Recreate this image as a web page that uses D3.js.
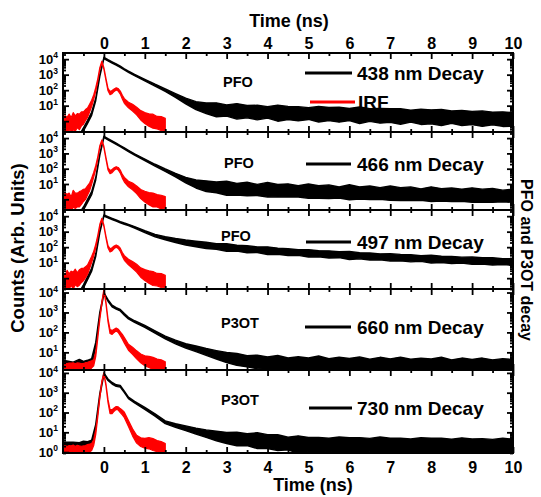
<!DOCTYPE html>
<html>
<head>
<meta charset="utf-8">
<script src="https://cdn.jsdelivr.net/npm/d3@7"></script>
<style>
html,body{margin:0;padding:0;background:#fff;}
svg text{font-family:"Liberation Sans",Arial,Helvetica,sans-serif;font-weight:bold;fill:#000;}
</style>
</head>
<body>
<svg id="chart" width="541" height="497"></svg>
<script>
// ---------- data ----------
const xDomain = [-1, 10];
const xMajorTicks = [0,1,2,3,4,5,6,7,8,9,10];
const xMinorTicks = [-0.5,0.5,1.5,2.5,3.5,4.5,5.5,6.5,7.5,8.5,9.5];
const panelNames = ["PFO","PFO","PFO","P3OT","P3OT"];
const decayLabels = ["438 nm Decay","466 nm Decay","497 nm Decay","660 nm Decay","730 nm Decay"];
const irfLabel = "IRF";
const yDomains = [[0.2,2.5e4],[0.2,2.5e4],[0.2,2.5e4],[1.3,1.5e4],[0.9,1.4e4]];
const yLabelExponents = [[1,2,3,4],[1,2,3,4],[1,2,3,4],[1,2,3,4],[0,1,2,3,4]];

const decayTimes = [-1,-0.75,-0.6,-0.5,-0.4,-0.3,-0.2,-0.1,0,0.1,0.2,0.3,0.4,0.5,0.6,0.75,
  1,1.25,1.5,1.75,2,2.25,2.5,2.75,3,3.25,3.5,3.75,4,4.25,4.5,4.75,5,5.25,5.5,5.75,6,6.25,6.5,6.75,
  7,7.25,7.5,7.75,8,8.25,8.5,8.75,9,9.25,9.5,9.75,10];

// decay counts (band centre) and band half-width in decades
const decay438 = [0.05,0.05,0.1,0.3,0.9,3,25,900, 12000,8500,6200,4500,3200,2200,1550,950,
  450,210,100,45,20,10,6.8,5.4, 4.9,4.3,4.1,3.6,3.7,3.3,3.4,3.0, 3.1,2.8,2.9,2.6,2.7,2.4,2.5,2.2,
  2.3,2.0,2.1,1.9,1.9,1.7,1.8,1.6, 1.6,1.45,1.5,1.35,1.3];
const spread438 = [0.1,0.1,0.1,0.1,0.1,0.1,0.08,0.06, 0.04,0.04,0.04,0.04,0.04,0.04,0.04,0.04,
  0.05,0.06,0.08,0.12,0.18,0.26, 0.34,0.45,0.36,0.5,0.4,0.47,0.37,0.52,0.42,0.46,0.38,0.5,0.43,0.48,
  0.39,0.53,0.41,0.47,0.44,0.5,0.38,0.49,0.45,0.52,0.4,0.48,0.43,0.5,0.41,0.47,0.44];

const decay466 = [0.05,0.05,0.1,0.25,0.8,2.5,22,850, 12000,8300,6000,4300,3000,2100,1450,850,
  380,170,80,38,18,10,7.2,6.0, 5.3,4.6,4.7,4.1,4.2,3.7,3.8,3.3, 3.4,3.0,3.1,2.8,2.9,2.6,2.7,2.4,
  2.5,2.2,2.3,2.05,2.15,1.95,2.0,1.85, 1.9,1.75,1.8,1.65,1.7];
const spread466 = [0.1,0.1,0.1,0.1,0.1,0.1,0.08,0.06, 0.04,0.04,0.04,0.04,0.04,0.04,0.04,0.04,
  0.05,0.06,0.08,0.12,0.18,0.26, 0.35,0.35,0.46,0.38,0.44,0.36,0.48,0.4,0.43,0.37,0.47,0.41,0.45,0.36,
  0.49,0.4,0.44,0.38,0.47,0.42,0.45,0.37,0.48,0.41,0.44,0.39,0.47,0.42,0.45,0.38,0.43];

const decay497 = [0.05,0.05,0.1,0.3,1.0,3.5,30,1000, 11000,8500,6600,5200,4100,3300,2700,1900,
  1000,560,380,270,200,160,130,110, 95,86,74,68,59,55,48,45, 40,38,34,32.5,29,28,25,24,
  22,21,19.2,18.5,17,16.4,15,14.6, 13.5,13,12.1,11.8,11];
const spread497 = [0.1,0.1,0.1,0.1,0.1,0.1,0.08,0.06, 0.04,0.04,0.04,0.04,0.04,0.04,0.04,0.05,
  0.06,0.08,0.1,0.13,0.16,0.18, 0.2,0.18,0.24,0.19,0.23,0.18,0.25,0.2,0.22,0.18,0.24,0.2,0.23,0.19,
  0.26,0.2,0.23,0.19,0.24,0.21,0.23,0.18,0.25,0.2,0.23,0.19,0.24,0.21,0.23,0.19,0.22];

const decay660 = [2.0,1.8,2.1,1.9,2.0,3,25,900, 9000,4000,2100,1600,1300,800,520,350,
  200,105,55,33,21,15,10.5,7.5, 5.5,4.4,3.6,3.3,2.9,2.9,2.6,2.7, 2.5,2.6,2.4,2.5,2.3,2.45,2.3,2.4,
  2.25,2.35,2.2,2.3,2.15,2.25,2.1,2.2, 2.1,2.15,2.05,2.1,2.0];
const spread660 = [0.3,0.25,0.32,0.27,0.3,0.2,0.1,0.06, 0.04,0.04,0.04,0.04,0.04,0.04,0.04,0.04,
  0.05,0.06,0.07,0.09,0.11,0.14,0.17,0.21, 0.25,0.3,0.28,0.34,0.31,0.38,0.3,0.35,0.32,0.4,0.3,0.36,
  0.33,0.38,0.29,0.37,0.32,0.39,0.31,0.35,0.33,0.4,0.3,0.37,0.32,0.38,0.31,0.36,0.34];

const decay730 = [1.6,1.8,1.5,1.9,1.7,2.5,20,800, 9000,4500,3000,2300,2100,1100,550,330,
  160,75,32,22,16,11.5,8.5,6.5, 5.2,4.6,4.2,3.8,3.4,3.0,2.7,2.4, 2.4,2.2,2.35,2.15,2.3,2.1,2.25,2.05,
  2.2,2.0,2.15,2.0,2.1,1.95,2.05,1.9, 2.0,1.9,1.95,1.85,1.9];
const spread730 = [0.3,0.25,0.3,0.27,0.3,0.2,0.1,0.06, 0.04,0.04,0.04,0.04,0.04,0.04,0.04,0.04,
  0.05,0.06,0.07,0.09,0.12,0.15,0.19,0.24, 0.28,0.34,0.3,0.4,0.35,0.4,0.32,0.44,0.36,0.4,0.33,0.43,
  0.37,0.41,0.34,0.45,0.36,0.4,0.33,0.42,0.38,0.41,0.34,0.44,0.36,0.4,0.35,0.43,0.37];

const irfTimes = [-1,-0.95,-0.9,-0.85,-0.8,-0.75,-0.7,-0.65,-0.6,-0.55,-0.5,-0.45,-0.4,-0.35,-0.3,
  -0.25,-0.2,-0.15,-0.1,-0.05,0,0.05,0.1,0.15,0.2,0.25,0.3,0.35,0.4,0.45,0.5,0.6,0.7,0.8,0.9,1.0,
  1.1,1.2,1.3,1.4,1.5];

const irf438 = [0.6,0.8,0.5,0.9,0.6,1.0,0.7,1.1,0.9,1.4,1.6, 2.5,3.5,7,14,35,110,450,2500,6600,
  2500,500,110,65,75,100,120,105,70,35,20, 11,7.5,4.5,2.4,1.6,1.2,1.0,0.8,0.7,0.6];
const irf466 = [0.5,0.9,0.6,0.8,0.5,1.1,0.8,0.9,1.0,1.3,1.8, 2.2,3.8,6.5,15,40,120,500,2800,6800,
  2600,480,100,60,70,95,115,100,65,32,19, 10,7,4.2,2.2,1.5,1.1,0.9,0.8,0.65,0.6];
const irf497 = [0.7,0.5,0.9,0.6,1.0,0.7,1.2,0.8,1.1,1.5,1.7, 2.4,3.6,7.5,16,38,115,480,2600,6500,
  2400,450,105,62,72,98,118,100,68,34,20, 11,7.2,4.4,2.3,1.6,1.2,0.95,0.8,0.7,0.6];
const irf660 = [1.8,2.0,1.7,1.9,1.8,2.1,1.7,2.0,1.8,1.9,1.8, 2.0,2.0,2.2,2.5,3,8,60,500,3000,
  13500,3000,400,110,100,120,140,120,85,60,40, 18,12,7.5,5,3.8,3.3,2.8,2.4,2.1,1.9];
const irf730 = [1.3,1.5,1.2,1.4,1.3,1.6,1.2,1.5,1.3,1.4,1.35, 1.4,1.5,1.6,1.8,3,10,70,600,3500,
  9000,2500,380,110,110,140,170,160,125,100,75, 28,10,4.5,3.2,2.8,2.8,2.4,2.0,1.7,1.5];

const irfSpreadPFO = [0.5,0.45,0.55,0.5,0.45,0.55,0.5,0.45,0.5,0.45,0.4, 0.35,0.3,0.25,0.2,0.15,
  0.12,0.08,0.06,0.05, 0.05,0.06,0.08,0.1,0.1,0.08,0.07,0.08,0.1,0.12,0.15,
  0.18,0.22,0.25,0.3,0.35,0.4,0.45,0.4,0.45,0.4];
const irfSpreadP3OT = [0.2,0.15,0.2,0.18,0.2,0.15,0.2,0.17,0.2,0.15,0.18, 0.18,0.2,0.2,0.18,0.15,
  0.12,0.08,0.06,0.05, 0.04,0.05,0.08,0.1,0.1,0.08,0.07,0.08,0.1,0.12,0.14,
  0.15,0.18,0.2,0.22,0.25,0.28,0.3,0.28,0.3,0.25];

const decays = [decay438, decay466, decay497, decay660, decay730];
const decaySpreads = [spread438, spread466, spread497, spread660, spread730];
const irfs = [irf438, irf466, irf497, irf660, irf730];
const irfSpreads = [irfSpreadPFO, irfSpreadPFO, irfSpreadPFO, irfSpreadP3OT, irfSpreadP3OT];

// ---------- layout ----------
const FONT = '"Liberation Sans",Arial,Helvetica,sans-serif';
const X0 = 63, X1 = 513;
const tops = [53,132,210,289,370], bots = [132,210,289,370,453];
const legendY = [73,164,242,327,408];
const nameY = [87,168,241,328,405];
const nameX = [223,224,221,221,221];
const lineX = [[305,352],[306,351],[306,351],[305,351],[309,352]];

const svg = d3.select("#chart");
const x = d3.scaleLinear().domain(xDomain).range([X0, X1]);

function styleAxis(g, fs){
  g.select(".domain").remove();
  g.selectAll("line").attr("stroke","#000").attr("stroke-width",1.8);
  g.attr("font-size", fs).attr("font-family", FONT).attr("font-weight","bold");
  g.selectAll("text").attr("fill","#000");
}

tops.forEach((top, i) => {
  const bot = bots[i];
  const y = d3.scaleLog().domain(yDomains[i]).range([bot, top]);
  const clipId = "clip" + i;
  svg.append("clipPath").attr("id", clipId).append("rect")
    .attr("x", X0).attr("y", top).attr("width", X1 - X0).attr("height", bot - top);

  const band = (times, c, s) => d3.area()
    .x((d, j) => x(times[j]))
    .y0((d, j) => y(c[j] / Math.pow(10, s[j])))
    .y1((d, j) => y(c[j] * Math.pow(10, s[j])))(c);

  const plot = svg.append("g").attr("clip-path", `url(#${clipId})`);
  plot.append("path").attr("d", band(decayTimes, decays[i], decaySpreads[i]))
    .attr("fill","#000").attr("stroke","#000").attr("stroke-width",1.4).attr("stroke-linejoin","round");
  plot.append("path").attr("d", band(irfTimes, irfs[i], irfSpreads[i]))
    .attr("fill","#ff0000").attr("stroke","#ff0000").attr("stroke-width",1.2).attr("stroke-linejoin","round");

  // x axes (bottom and top, inward ticks)
  svg.append("g").attr("transform", `translate(0,${bot})`)
    .call(d3.axisBottom(x).tickValues(xMajorTicks).tickSize(-6).tickPadding(9)
      .tickFormat(i === 4 ? d3.format("d") : () => ""))
    .call(g => styleAxis(g, 16));
  svg.append("g").attr("transform", `translate(0,${bot})`)
    .call(d3.axisBottom(x).tickValues(xMinorTicks).tickSize(-3).tickFormat(() => ""))
    .call(g => styleAxis(g, 16));
  svg.append("g").attr("transform", `translate(0,${top})`)
    .call(d3.axisTop(x).tickValues(xMajorTicks).tickSize(-6).tickPadding(4)
      .tickFormat(i === 0 ? d3.format("d") : () => ""))
    .call(g => styleAxis(g, 16));
  svg.append("g").attr("transform", `translate(0,${top})`)
    .call(d3.axisTop(x).tickValues(xMinorTicks).tickSize(-3).tickFormat(() => ""))
    .call(g => styleAxis(g, 16));

  // y axes (log)
  const [lo, hi] = yDomains[i];
  const majors = [], minors = [];
  for (let e = -2; e <= 5; e++) {
    const v = Math.pow(10, e);
    if (v >= lo && v <= hi) majors.push(v);
    for (let m = 2; m <= 9; m++) { const mv = m * v; if (mv >= lo && mv <= hi) minors.push(mv); }
  }
  [[d3.axisLeft, X0], [d3.axisRight, X1]].forEach(([ax, px]) => {
    svg.append("g").attr("transform", `translate(${px},0)`)
      .call(ax(y).tickValues(majors).tickSize(-6).tickFormat(() => ""))
      .call(g => styleAxis(g, 12));
    svg.append("g").attr("transform", `translate(${px},0)`)
      .call(ax(y).tickValues(minors).tickSize(-3).tickFormat(() => ""))
      .call(g => styleAxis(g, 12));
  });
  yLabelExponents[i].forEach(ex => {
    const t = svg.append("text").attr("x", X0 - 5).attr("y", y(Math.pow(10, ex)) + 4.5)
      .attr("text-anchor","end").attr("font-size",13);
    t.append("tspan").text("10");
    t.append("tspan").attr("dy",-5.5).attr("font-size",8.5).text(String(ex));
  });

  // frame
  svg.append("rect").attr("x", X0).attr("y", top).attr("width", X1 - X0).attr("height", bot - top)
    .attr("fill","none").attr("stroke","#000").attr("stroke-width",2);

  // labels / legend
  svg.append("text").attr("x", nameX[i]).attr("y", nameY[i]).attr("font-size",14.5).text(panelNames[i]);
  svg.append("line").attr("x1", lineX[i][0]).attr("x2", lineX[i][1]).attr("y1", legendY[i]).attr("y2", legendY[i])
    .attr("stroke","#000").attr("stroke-width",3);
  svg.append("text").attr("x", 357).attr("y", legendY[i] + 7).attr("font-size",19).text(decayLabels[i]);
  if (i === 0) {
    svg.append("line").attr("x1",310).attr("x2",355).attr("y1",102).attr("y2",102)
      .attr("stroke","#ff0000").attr("stroke-width",3);
    svg.append("text").attr("x",358).attr("y",109).attr("font-size",19).text(irfLabel);
  }
});

// titles
svg.append("text").attr("x",289).attr("y",27).attr("text-anchor","middle").attr("font-size",18).text("Time (ns)");
svg.append("text").attr("x",313).attr("y",491).attr("text-anchor","middle").attr("font-size",18).text("Time (ns)");
svg.append("text").attr("transform","translate(23.5,248) rotate(-90)").attr("text-anchor","middle")
  .attr("font-size",18.5).text("Counts (Arb. Units)");
svg.append("text").attr("transform","translate(521,260) rotate(90)").attr("text-anchor","middle")
  .attr("font-size",16).text("PFO and P3OT decay");
</script>
</body>
</html>
